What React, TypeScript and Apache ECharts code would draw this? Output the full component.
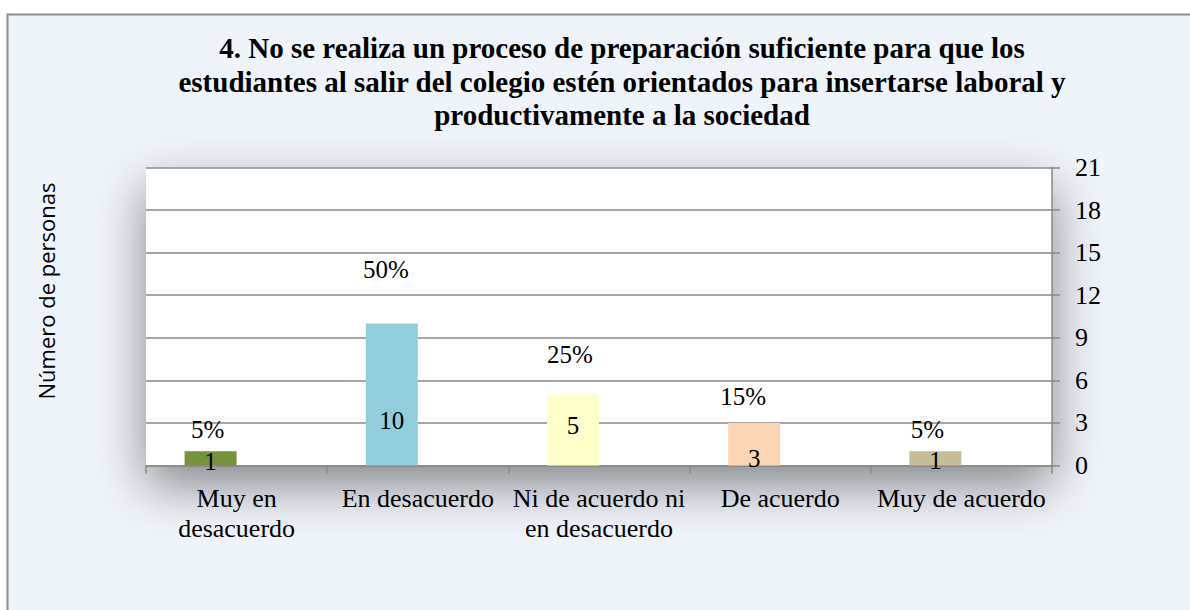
import React, { useEffect, useRef } from "react";
import * as echarts from "echarts";

const titleLines = [
  "4. No se realiza un proceso de preparación suficiente para que los",
  "estudiantes al salir del colegio estén orientados para insertarse laboral y",
  "productivamente a la sociedad",
];
const categories = [
  "Muy en\ndesacuerdo",
  "En desacuerdo",
  "Ni de acuerdo ni\nen desacuerdo",
  "De acuerdo",
  "Muy de acuerdo",
];
const counts = [1, 10, 5, 3, 1];
const percents = [5, 50, 25, 15, 5];
const yAxisTitle = "Número de personas";
const yMin = 0;
const yMax = 21;
const yStep = 3;

const barColors = ["#76933C", "#92CDDC", "#FFFFCC", "#FCD5B5", "#C4BD97"];
const countLabelOffsets = [[0, 8.5], [0, -32.5], [0, -27.5], [0, 5.5], [0, 7.5]];
const pctLabelOffsets = [[-3, -4], [-6, -36], [-3, -22.5], [-11, -8.5], [-8, -3.5]];

const SERIF = '"Liberation Serif", "Times New Roman", serif';

export default function App() {
  const ref = useRef<HTMLDivElement>(null);
  useEffect(() => {
    document.body.style.margin = "0";
    const chart = echarts.init(ref.current!, null, { renderer: "svg" });
    chart.setOption({
      animation: false,
      backgroundColor: "#ffffff",
      graphic: [
        {
          type: "rect",
          z: -10,
          silent: true,
          shape: { x: 7.5, y: 14.5, width: 1400, height: 800 },
          style: { fill: "#EFF3FA", stroke: "#8C8C8C", lineWidth: 2 },
        },
        {
          type: "text",
          z: 10,
          style: {
            text: titleLines.join("\n"),
            x: 622,
            y: 81.5,
            align: "center",
            verticalAlign: "middle",
            font: `bold 29px ${SERIF}`,
            lineHeight: 33.5,
            fill: "#000000",
          },
        },
        {
          type: "text",
          z: 10,
          x: 46,
          y: 291,
          rotation: Math.PI / 2,
          style: {
            text: yAxisTitle,
            x: 0,
            y: 0,
            align: "center",
            verticalAlign: "middle",
            font: '22px "Open Sans", sans-serif',
            fill: "#000000",
          },
        },
      ],
      grid: {
        left: 146,
        right: 138,
        top: 167.5,
        bottom: 144.5,
        show: true,
        backgroundColor: "#ffffff",
        borderWidth: 0,
        shadowBlur: 50,
        shadowColor: "rgba(0,0,0,0.45)",
        shadowOffsetY: 20,
      },
      xAxis: {
        type: "category",
        data: categories,
        axisLine: { show: true, lineStyle: { color: "#898989", width: 1.5 } },
        axisTick: { show: true, length: 8, interval: 0, lineStyle: { color: "#898989", width: 1.5 } },
        axisLabel: {
          interval: 0,
          margin: 18,
          fontFamily: SERIF,
          fontSize: 26,
          lineHeight: 30,
          color: "#000000",
        },
        splitLine: { show: false },
      },
      yAxis: {
        type: "value",
        position: "right",
        min: yMin,
        max: yMax,
        interval: yStep,
        axisLine: { show: true, lineStyle: { color: "#898989", width: 1.5 } },
        axisTick: { show: true, length: 8, lineStyle: { color: "#898989", width: 1.5 } },
        axisLabel: { margin: 23, fontFamily: SERIF, fontSize: 26, color: "#000000" },
        splitLine: { show: true, lineStyle: { color: "#898989", width: 1.5 } },
      },
      series: [
        {
          name: "Personas",
          type: "bar",
          stack: "a",
          barWidth: 52,
          barGap: "0%",
          data: counts.map((v, i) => ({
            value: v,
            itemStyle: { color: barColors[i] },
            label: { offset: countLabelOffsets[i] },
          })),
          label: {
            show: true,
            position: "insideBottom",
            distance: 0,
            fontFamily: SERIF,
            fontSize: 25,
            lineHeight: 26,
            color: "#000000",
          },
        },
        {
          name: "Porcentaje",
          type: "bar",
          stack: "a",
          barWidth: 52,
          barGap: "0%",
          itemStyle: { color: "rgba(0,0,0,0)" },
          data: percents.map((p, i) => ({
            value: 0,
            label: { offset: pctLabelOffsets[i] },
          })),
          label: {
            show: true,
            position: "top",
            distance: 5,
            formatter: (p: any) => `${percents[p.dataIndex]}%`,
            fontFamily: SERIF,
            fontSize: 25,
            lineHeight: 26,
            color: "#000000",
          },
        },
        {
          name: "vacío",
          type: "bar",
          stack: "b",
          barWidth: 52,
          barGap: "0%",
          data: categories.map(() => "-"),
        },
      ],
    });
    return () => chart.dispose();
  }, []);
  return <div ref={ref} style={{ width: 1190, height: 610 }} />;
}
